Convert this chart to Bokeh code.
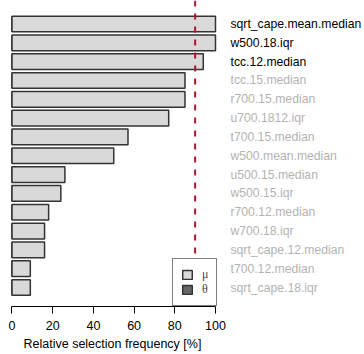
from bokeh.plotting import figure
from bokeh.models import Range1d, Span, Legend, LegendItem, ColumnDataSource, FixedTicker, Title
from bokeh.core.properties import value
from bokeh.embed import file_html
from bokeh.resources import INLINE

# ---- data ----
labels = ["sqrt_cape.mean.median", "w500.18.iqr", "tcc.12.median", "tcc.15.median",
          "r700.15.median", "u700.1812.iqr", "t700.15.median", "w500.mean.median",
          "u500.15.median", "w500.15.iqr", "r700.12.median", "w700.18.iqr",
          "sqrt_cape.12.median", "t700.12.median", "sqrt_cape.18.iqr"]
mu_freq = [100, 100, 94, 85, 85, 77, 57, 50, 26, 24, 18, 16, 16, 9, 9]
theta_freq = [0, 0, 0, 0, 0, 0, 0, 0, 0, 0, 0, 0, 0, 0, 0]
threshold = 90
x_ticks = [0, 20, 40, 60, 80, 100]
x_min, x_max = 0, 100
x_label = "Relative selection frequency [%]"

n = len(labels)
ypos = [0.7 + 1.2 * (n - 1 - k) for k in range(n)]
text_colors = ["#000000" if v >= threshold else "#b3b3b3" for v in mu_freq]

src = ColumnDataSource(dict(y=ypos, mu=mu_freq, theta=theta_freq, label=labels,
                            tc=text_colors, xl=[x_max] * n))

FONT = "Liberation Sans"

p = figure(frame_width=364, frame_height=306, output_backend="svg", toolbar_location=None,
           x_range=Range1d(-5.65, 173.22), y_range=Range1d(-0.51, 19.0),
           y_axis_location=None, min_border_left=0, min_border_right=0,
           min_border_top=0, min_border_bottom=0)
p.outline_line_color = None
p.xgrid.visible = False
p.ygrid.visible = False
p.background_fill_color = "white"
p.border_fill_color = "white"

theta = p.hbar(y="y", left=0, right="theta", height=1, source=src,
               fill_color="#666666", line_color="#333333", line_width=1.5)
bars = p.hbar(y="y", left=0, right="mu", height=1, source=src,
              fill_color="#d9d9d9", line_color="#333333", line_width=1.5)

span = Span(location=threshold, dimension="height", line_color="#b0162b",
            line_width=2, line_dash="6 7")
p.add_layout(span)

p.text(x="xl", y="y", text="label", source=src, x_offset=15,
       text_font=value(FONT), text_font_size="12.2px", text_color="tc",
       text_baseline="middle", text_align="left")

ax = p.xaxis[0]
ax.ticker = FixedTicker(ticks=x_ticks)
ax.bounds = (x_min, x_max)
ax.major_label_text_font = FONT
ax.major_label_text_font_size = "12.5px"
ax.major_label_text_color = "black"
ax.major_label_standoff = 7
ax.major_tick_out = 7
ax.major_tick_in = 0
ax.minor_tick_out = 0
ax.minor_tick_in = 0
ax.axis_line_color = "black"
ax.major_tick_line_color = "black"

# x-axis title placed under the 0..100 axis (frame is wider because of the labels)
xt = Title(text=x_label, align="left", offset=23,
           text_font=FONT, text_font_size="12.5px", text_font_style="normal",
           text_color="black", standoff=5)
p.add_layout(xt, "below")

legend = Legend(items=[LegendItem(label="μ", renderers=[bars]),
                       LegendItem(label="θ", renderers=[theta])],
                location=(172, 0), border_line_color="black", border_line_width=1,
                background_fill_color="white", background_fill_alpha=1.0,
                glyph_width=12, glyph_height=11, padding=8, spacing=0,
                label_standoff=9, label_width=0, label_height=0, margin=0,
                label_text_font="Liberation Serif", label_text_font_size="12px")
p.add_layout(legend, "center")

open("out.html", "w").write(file_html(p, INLINE))
